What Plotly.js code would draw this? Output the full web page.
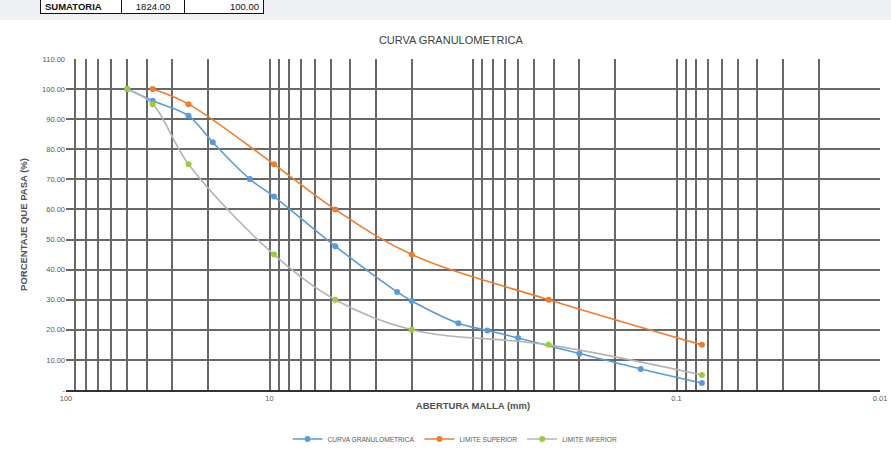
<!DOCTYPE html>
<html>
<head>
<meta charset="utf-8">
<script src="https://cdn.plot.ly/plotly-3.0.1.min.js"></script>
<style>
  html, body { margin: 0; padding: 0; background: #ffffff; }
  #wrap { position: relative; width: 891px; height: 450px; overflow: hidden; }
  #chart { position: absolute; left: 0; top: 0; width: 891px; height: 450px; }
  #band { position: absolute; left: 0; top: 0; width: 891px; height: 20px; background: #eef0f3; }
  table.sum { position: absolute; left: 40px; top: -2px; border-collapse: collapse;
    font-family: "Liberation Sans", Arial, sans-serif; font-size: 9.5px; color: #111; background: #fff; }
  table.sum td { border: 1.5px solid #111; height: 14px; padding: 0 4px; }
</style>
</head>
<body>
<div id="wrap">
  <div id="band"></div>
  <div id="chart"></div>
  <table class="sum">
    <tr>
      <td style="width:72px; font-weight:bold;">SUMATORIA</td>
      <td style="width:54px; text-align:center;">1824.00</td>
      <td style="width:70px; text-align:right;">100.00</td>
    </tr>
  </table>
</div>
<script>
// Sieve openings (mm) and percent passing
const aberturaCurva = [50, 37.5, 25, 19, 12.5, 9.5, 4.75, 2.36, 2.0, 1.18, 0.85, 0.6, 0.3, 0.15, 0.075];
const pasaCurva     = [100, 96.1, 91.1, 82.3, 70.1, 64.3, 47.8, 32.6, 29.6, 22.2, 19.8, 17.3, 12.1, 7.0, 2.3];

const aberturaSup = [37.5, 25, 9.5, 4.75, 2.0, 0.425, 0.075];
const pasaSup     = [100, 95, 75, 60, 45, 30, 15];

const aberturaInf = [50, 37.5, 25, 9.5, 4.75, 2.0, 0.425, 0.075];
const pasaInf     = [100, 95, 75, 45, 30, 20, 15, 5];

const xTickVals = [100, 10, 1, 0.1, 0.01];
const xTickText = ['100', '10', '', '0.1', '0.01'];
const yTickVals = [0, 10, 20, 30, 40, 50, 60, 70, 80, 90, 100, 110];
const yTickText = yTickVals.map(v => v === 0 ? '-' : v.toFixed(2));

// log-paper minor grid: 2..9 within each decade
const minorGrid = [];
[0.01, 0.1, 1, 10].forEach(d => { for (let k = 2; k <= 9; k++) minorGrid.push(+(k * d).toPrecision(3)); });

const gridColor = '#686868';
const font = "Liberation Sans, Arial, sans-serif";

const serie = (name, x, y, lineColor, markerColor) => ({
  type: 'scatter', mode: 'lines+markers', name, x, y,
  line: { color: lineColor, width: 1.6, shape: 'spline', smoothing: 1 },
  marker: { color: markerColor, size: 6 }
});

const data = [
  serie('CURVA GRANULOMETRICA', aberturaCurva, pasaCurva, '#5b9bd5', '#5b9bd5'),
  serie('LIMITE SUPERIOR', aberturaSup, pasaSup, '#ed7d31', '#ed7d31'),
  serie('LIMITE INFERIOR', aberturaInf, pasaInf, '#b4b4b4', '#9ccc3c')
];

const layout = {
  width: 891, height: 450,
  paper_bgcolor: 'rgba(0,0,0,0)', plot_bgcolor: 'rgba(0,0,0,0)',
  margin: { l: 66, r: 11, t: 59, b: 60, autoexpand: false },
  font: { family: font, color: '#595959' },
  title: { text: 'CURVA GRANULOMETRICA', x: 0.506, xanchor: 'center', y: 0.911, yanchor: 'middle',
           font: { size: 11, color: '#404040', family: font } },
  xaxis: {
    type: 'log', range: [2, -2],
    tickmode: 'array', tickvals: xTickVals, ticktext: xTickText,
    tickfont: { size: 7.5, color: '#595959' },
    showgrid: true, gridcolor: gridColor, gridwidth: 2,
    minor: { tickmode: 'array', tickvals: minorGrid, showgrid: true, gridcolor: gridColor, gridwidth: 2, ticks: '' },
    showline: true, linecolor: '#333333', linewidth: 2,
    zeroline: false, ticks: '', ticklen: 0,
    title: { text: '<b>ABERTURA MALLA (mm)</b>', standoff: 0, font: { size: 9.5, color: '#505050' } }
  },
  yaxis: {
    range: [0, 110],
    tickmode: 'array', tickvals: yTickVals, ticktext: yTickText,
    tickfont: { size: 7.5, color: '#595959' },
    showgrid: true, gridcolor: gridColor, gridwidth: 2,
    zeroline: false, showline: false, ticks: '', ticklen: 0,
    title: { text: '<b>PORCENTAJE QUE PASA (%)</b>', standoff: 12, font: { size: 9.5, color: '#505050' } }
  },
  legend: {
    orientation: 'h', x: 0.478, xanchor: 'center', y: -0.148, yanchor: 'middle',
    font: { size: 6.6, color: '#595959' }, itemwidth: 30, bgcolor: 'rgba(0,0,0,0)'
  },
  showlegend: true
};

Plotly.newPlot('chart', data, layout, { displayModeBar: false, staticPlot: true });
</script>
</body>
</html>
